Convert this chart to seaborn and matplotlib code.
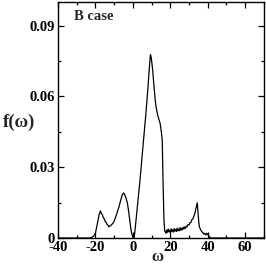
import numpy as np
import pandas as pd
import matplotlib
matplotlib.use("Agg")
import matplotlib.pyplot as plt
import seaborn as sns
from matplotlib.ticker import MultipleLocator, FixedLocator, FixedFormatter

omega = [-40, -23, -22, -21, -20, -19, -18, -17.3, -16.8, -16.3, -15.8, -15.3, -14.8, -14.3,
         -13.8, -13.3, -12.8, -12.3, -11.8, -11.3, -10.8, -10.1, -9.5, -8.8, -8.0, -7.4,
         -6.5, -5.7, -5.0, -4.4, -3.6, -2.9, -2.2, -1.5, -0.8, 0.0, 0.7, 1.5, 2.5, 3.5,
         4.3, 5.2, 6.1, 7.0, 8.0, 8.8, 9.4, 9.8, 10.2, 10.6, 11.0, 11.5, 12.0, 12.4, 12.9,
         13.3, 14.0, 14.6, 15.2, 15.7, 16.1, 16.6, 17.0, 17.3,
         17.7, 18.1, 18.5, 18.9, 19.3, 19.7, 20.1, 20.5, 20.9, 21.3, 21.7, 22.1, 22.5,
         22.9, 23.3, 23.7, 24.1, 24.5, 24.9, 25.3, 25.7, 26.1, 26.5, 26.9, 27.3, 27.7,
         28.1, 28.5, 29.0, 29.5, 30.0, 30.5, 31.0, 31.5, 32.2, 32.6, 33.0, 33.4, 33.8,
         34.4, 34.8, 35.2, 35.5, 36.2, 36.8, 37.5, 38.0, 38.5, 39.0, 39.5, 40.3, 41.0,
         41.5, 70]
f_omega = [0, 0, 0.0003, 0.0008, 0.002, 0.006, 0.0100, 0.0115, 0.0103, 0.0099, 0.0086,
           0.0082, 0.0070, 0.0067, 0.0058, 0.0054, 0.0047, 0.0051, 0.0053, 0.0057, 0.0061,
           0.0069, 0.0082, 0.0098, 0.0118, 0.0132, 0.0160, 0.0182, 0.0191, 0.0185, 0.0168,
           0.0147, 0.0110, 0.0065, 0.0025, 0.0003, 0.0, 0.006, 0.014, 0.022, 0.0287, 0.037,
           0.045, 0.053, 0.063, 0.072, 0.0777, 0.0765, 0.0740, 0.0710, 0.0670, 0.0625,
           0.0580, 0.0555, 0.0535, 0.0520, 0.0500, 0.0485, 0.0450, 0.0414, 0.0250, 0.0080,
           0.0030, 0.0027,
           0.0020, 0.0034, 0.0024, 0.0038, 0.0026, 0.0033, 0.0022, 0.0039, 0.0027, 0.0035,
           0.0025, 0.0040, 0.0029, 0.0036, 0.0028, 0.0042, 0.0030, 0.0038, 0.0031, 0.0044,
           0.0033, 0.0041, 0.0035, 0.0046, 0.0038, 0.0047, 0.0041, 0.0050, 0.0048, 0.0057,
           0.0055, 0.0065, 0.0066, 0.0077, 0.0083, 0.0092, 0.0100, 0.0115, 0.0128, 0.0149,
           0.0110, 0.0070, 0.0048, 0.0035, 0.0027, 0.0022, 0.0016, 0.0020, 0.0013, 0.0020,
           0.0012, 0.0005, 0, 0]

xticks = [-40, -20, 0, 20, 40, 60]
xticklabels = ["-40", "-20", "0", "20", "40", "60"]
yticks = [0, 0.03, 0.06, 0.09]
yticklabels = ["0", "0.03", "0.06", "0.09"]

df = pd.DataFrame({"omega": omega, "f": f_omega})

sns.set_style("ticks")
plt.rcParams["font.family"] = ["Liberation Serif", "DejaVu Serif"]
plt.rcParams["font.weight"] = "bold"

fig = plt.figure(figsize=(2.66, 2.64), dpi=100)
ax = fig.add_axes([0.218, 0.0985, 0.774, 0.894])
sns.lineplot(data=df, x="omega", y="f", ax=ax, color="black", linewidth=0.9, estimator=None, sort=False)

ax.set_xlim(-40, 70)
ax.set_ylim(0, 0.1)
ax.xaxis.set_major_locator(FixedLocator(xticks))
ax.xaxis.set_major_formatter(FixedFormatter(xticklabels))
ax.yaxis.set_major_locator(FixedLocator(yticks))
ax.yaxis.set_major_formatter(FixedFormatter(yticklabels))
ax.xaxis.set_minor_locator(MultipleLocator(10))
ax.yaxis.set_minor_locator(MultipleLocator(0.015))
ax.tick_params(which="both", direction="in", top=True, right=True, width=0.9, colors="black", labelsize=10.5)
ax.tick_params(axis="x", pad=2.5)
ax.tick_params(axis="y", pad=2.5)
ax.tick_params(which="major", length=4.5)
ax.tick_params(which="minor", length=2.5)
for lab in ax.get_xticklabels() + ax.get_yticklabels():
    lab.set_fontweight("bold")
for s in ax.spines.values():
    s.set_visible(True)
    s.set_linewidth(1.0)
    s.set_color("black")

ax.set_xlabel("ω", fontsize=12, fontweight="bold")
ax.xaxis.set_label_coords(0.485, -0.08)
ax.xaxis.label.set_va("center")
ax.set_ylabel("f(ω)", fontsize=13.5, fontweight="bold", rotation=0)
ax.yaxis.set_label_coords(-0.19, 0.49)
ax.yaxis.label.set_va("center")
ax.yaxis.label.set_ha("center")
ax.text(0.08, 0.925, "B case", transform=ax.transAxes, fontsize=10.5, fontweight="bold", va="baseline")

fig.savefig("out.png", dpi=100)
